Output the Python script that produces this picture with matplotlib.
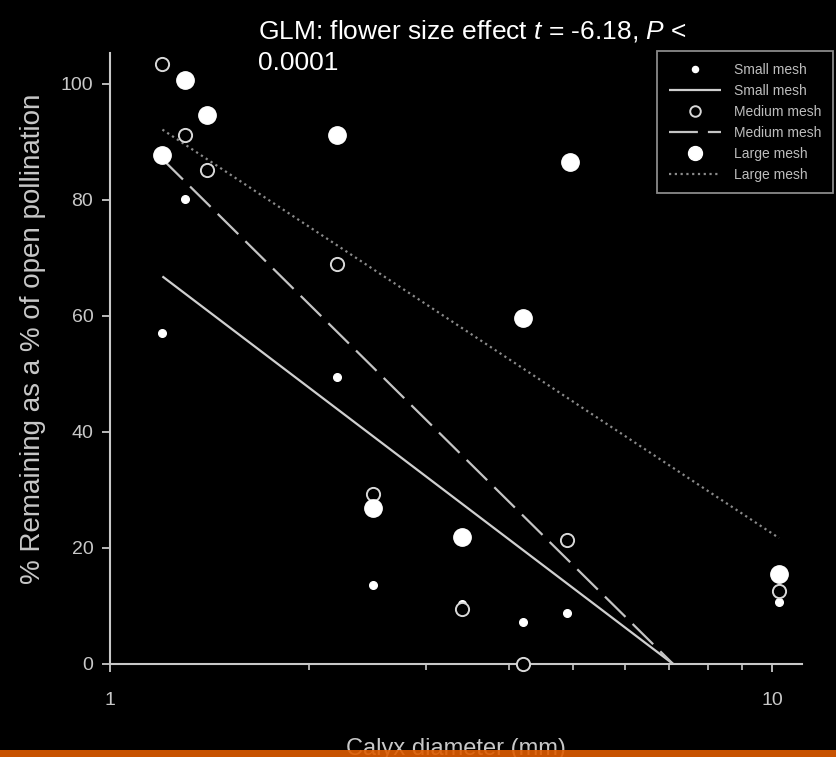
import matplotlib
matplotlib.use("Agg")
import matplotlib.pyplot as plt
from matplotlib.patches import Rectangle

plt.rcParams["font.family"] = ["Liberation Sans", "DejaVu Sans"]
plt.rcParams["mathtext.fontset"] = "custom"
plt.rcParams["mathtext.rm"] = "Liberation Sans"
plt.rcParams["mathtext.it"] = "Liberation Sans:italic"

# seed set remaining (% of open pollination) per mesh size vs calyx diameter
small_x = [1.2, 1.3, 2.2, 2.5, 3.4, 4.2, 4.9, 10.25]
small_y = [57.1, 80.2, 49.5, 13.6, 10.3, 7.2, 8.8, 10.7]

medium_x = [1.2, 1.3, 1.4, 2.2, 2.5, 3.4, 4.2, 4.9, 10.25]
medium_y = [103.4, 91.2, 85.2, 69.0, 29.3, 9.5, 0.0, 21.4, 12.6]

large_x = [1.2, 1.3, 1.4, 2.2, 2.5, 3.4, 4.2, 4.95, 10.25]
large_y = [87.8, 100.7, 94.7, 91.2, 26.9, 21.9, 59.7, 86.6, 15.5]

# fitted lines (end points)
fit_x_small = [1.2, 7.09]
fit_small = [66.8, 0.0]
fit_x_medium = [1.2, 7.09]
fit_medium = [87.0, 0.0]
fit_x_large = [1.2, 10.25]
fit_large = [92.1, 21.7]

y_ticks = [0, 20, 40, 60, 80, 100]
x_ticks = [1, 10]

fg = "#c8c8c8"

fig = plt.figure(figsize=(8.36, 7.57), dpi=100, facecolor="black")
ax = fig.add_axes([110 / 836, 1 - 664 / 757, 692 / 836, 611 / 757])
ax.set_facecolor("black")

l_small, = ax.plot(fit_x_small, fit_small, color="#cfcfcf", lw=1.6,
                   solid_capstyle="butt", zorder=2)
l_medium, = ax.plot(fit_x_medium, fit_medium, color="#c4c4c4", lw=1.6,
                    linestyle=(0, (13, 4.5)), zorder=2)
l_large, = ax.plot(fit_x_large, fit_large, color="#8a8a8a", lw=1.6,
                   linestyle=(0, (1, 1.6)), zorder=2)

p_small, = ax.plot(small_x, small_y, "o", ms=5.5, color="white", mec="white",
                   zorder=3, clip_on=False)
p_medium, = ax.plot(medium_x, medium_y, "o", ms=9.5, mfc="black", mec="#d8d8d8",
                    mew=1.4, zorder=4, clip_on=False)
p_large, = ax.plot(large_x, large_y, "o", ms=12.5, color="white", mec="white",
                   zorder=5, clip_on=False)

ax.set_xscale("log")
ax.set_xlim(1, 11.1)
ax.set_ylim(0, 105.3)
ax.set_xticks(x_ticks)
ax.set_xticklabels([str(v) for v in x_ticks])
ax.set_yticks(y_ticks)

for side in ["top", "right"]:
    ax.spines[side].set_visible(False)
for side in ["left", "bottom"]:
    ax.spines[side].set_color(fg)
    ax.spines[side].set_linewidth(1.5)

ax.tick_params(axis="both", which="major", colors=fg, labelcolor=fg,
               direction="out", length=6, width=1.3, labelsize=14)
ax.tick_params(axis="x", which="major", pad=14)
ax.tick_params(axis="y", which="major", pad=6)
ax.tick_params(axis="x", which="minor", colors=fg, direction="out",
               length=4, width=1.2)
ax.xaxis.set_minor_formatter(plt.NullFormatter())

ax.set_ylabel("% Remaining as a % of open pollination", color=fg, fontsize=20)
ax.yaxis.set_label_coords(-0.092, 0.532)
ax.set_xlabel("Calyx diameter (mm)", color=fg, fontsize=17, labelpad=21)

leg = ax.legend(
    [p_small, l_small, p_medium, l_medium, p_large, l_large],
    ["Small mesh", "Small mesh", "Medium mesh", "Medium mesh",
     "Large mesh", "Large mesh"],
    loc="upper right", bbox_to_anchor=(833 / 836, 1 - 51 / 757),
    bbox_transform=fig.transFigure, borderaxespad=0, fontsize=10,
    labelspacing=0.5, handlelength=3.8, handletextpad=0.9, borderpad=0.85,
    fancybox=False, framealpha=1, facecolor="black", edgecolor="#8a8a8a",
    markerscale=0.8, numpoints=1,
)
leg.get_frame().set_linewidth(1.3)
for txt in leg.get_texts():
    txt.set_color("#bdbdbd")

# annotation: two lines, baselines at 38 px and 70 px from the top
fig.text(258 / 836, 1 - 38 / 757,
         "GLM: flower size effect $t$ = -6.18, $P$ <",
         color="white", fontsize=19, ha="left", va="baseline")
fig.text(258 / 836, 1 - 70 / 757, "0.0001",
         color="white", fontsize=19, ha="left", va="baseline")

# orange strip along the bottom edge
fig.patches.append(Rectangle((0, 0), 1, 7 / 757, transform=fig.transFigure,
                             facecolor="#de5c00", edgecolor="none", alpha=0.9,
                             zorder=10))

fig.savefig("out.png", dpi=100, facecolor="black")
